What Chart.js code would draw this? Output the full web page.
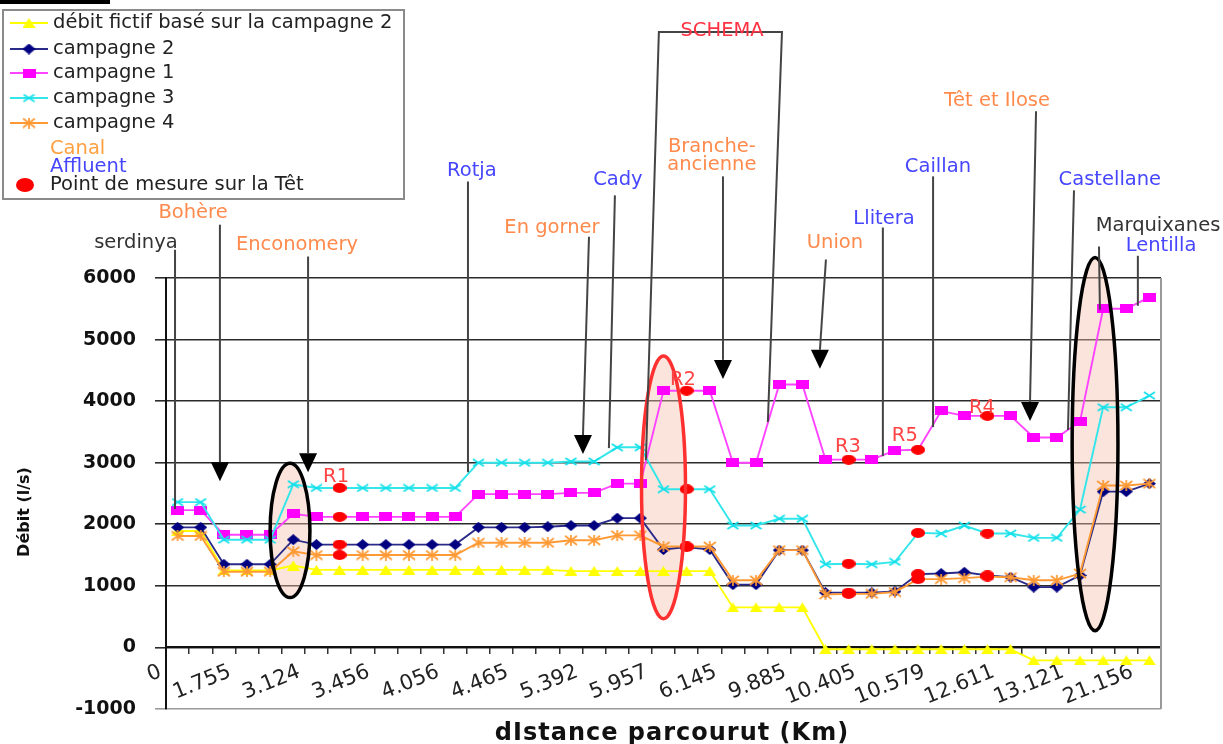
<!DOCTYPE html>
<html lang="fr">
<head>
<meta charset="utf-8">
<title>Débit en fonction de la distance parcourue</title>
<script src="https://cdn.jsdelivr.net/npm/chart.js@4.4.1/dist/chart.umd.min.js"></script>
<style>
  html, body { margin: 0; padding: 0; background: #fff; }
</style>
</head>
<body>
<canvas id="debitChart" width="1223" height="744"></canvas>
<script>
// distances (km) written under the axis, one every third station
const kmTicks = ['0', '1.755', '3.124', '3.456', '4.056', '4.465', '5.392', '5.957',
  '6.145', '9.885', '10.405', '10.579', '12.611', '13.121', '21.156'];
const categories = [];
for (let i = 0; i < 43; i++) categories.push(i % 3 === 0 ? kmTicks[i / 3] : '');

// débits (l/s)
const fictif = [1890, 1890, 1250, 1250, 1250, 1330,
  1260, 1260, 1260, 1260, 1260, 1260, 1260, 1260, 1260, 1260, 1260,
  1240, 1240, 1240, 1240, 1240, 1240, 1240,
  650, 650, 650, 650,
  -30, -30, -30, -30, -30, -30, -30, -30, -30,
  -210, -210, -210, -210, -210, -210];
const campagne2 = [1950, 1950, 1350, 1350, 1350, 1750,
  1670, 1670, 1670, 1670, 1670, 1670, 1670,
  1950, 1950, 1950, 1960, 1980, 1980, 2100, 2100,
  1590, 1630, 1590, 1020, 1020, 1580, 1580,
  890, 890, 890, 910, 1190,
  1200, 1220, 1170, 1140, 980, 980, 1170,
  2530, 2530, 2660];
const campagne1 = [2230, 2230, 1830, 1830, 1830, 2170,
  2120, 2120, 2120, 2120, 2120, 2120, 2120,
  2490, 2490, 2490, 2490, 2510, 2510, 2660, 2660,
  4170, 4170, 4170, 3000, 3000, 4270, 4270,
  3050, 3050, 3050, 3200, 3210,
  3840, 3760, 3760, 3760, 3410, 3410, 3670,
  5500, 5500, 5690];
const campagne3 = [2360, 2360, 1750, 1750, 1750, 2650,
  2590, 2590, 2590, 2590, 2590, 2590, 2590,
  3000, 3000, 3000, 3000, 3020, 3020, 3250, 3250,
  2570, 2570, 2570, 1980, 1980, 2090, 2090,
  1350, 1360, 1350, 1390, 1860,
  1850, 1980, 1850, 1850, 1780, 1780, 2240,
  3900, 3900, 4090];
const campagne4 = [1810, 1810, 1230, 1230, 1230, 1560,
  1500, 1500, 1500, 1500, 1500, 1500, 1500,
  1700, 1700, 1700, 1700, 1740, 1740, 1820, 1820,
  1640, 1640, 1640, 1090, 1090, 1580, 1580,
  860, 870, 870, 900, 1110,
  1110, 1125, 1150, 1140, 1090, 1090, 1200,
  2630, 2630, 2660];

// stations where the Têt was measured (R1, R2, R3, R5, R4)
const mesure = [7, 22, 29, 32, 35];
const mesureNames = ['R1', 'R2', 'R3', 'R5', 'R4'];

const ORANGE = '#ff8a4c';
const BLUE = '#4646ff';

// small canvas markers, closer to the old spreadsheet look than the built-in ones
function marker(kind, color, w, h) {
  const c = document.createElement('canvas');
  c.width = w; c.height = h;
  const g = c.getContext('2d');
  g.fillStyle = color;
  g.strokeStyle = color;
  g.lineWidth = 1.7;
  g.beginPath();
  if (kind === 'tri') {
    g.moveTo(w / 2, 0); g.lineTo(w, h); g.lineTo(0, h); g.closePath(); g.fill();
  } else if (kind === 'diamond') {
    g.moveTo(w / 2, 0); g.lineTo(w, h / 2); g.lineTo(w / 2, h); g.lineTo(0, h / 2); g.closePath(); g.fill();
  } else if (kind === 'rect') {
    g.fillRect(0, 0, w, h);
  } else if (kind === 'cross' || kind === 'star') {
    g.moveTo(1, 1); g.lineTo(w - 1, h - 1);
    g.moveTo(w - 1, 1); g.lineTo(1, h - 1);
    if (kind === 'star') { g.moveTo(w / 2, 0); g.lineTo(w / 2, h); }
    g.stroke();
  } else if (kind === 'dot') {
    g.ellipse(w / 2, h / 2, w / 2, h / 2, 0, 0, Math.PI * 2); g.fill();
  }
  return c;
}

const redDot = marker('dot', '#ff0000', 14, 10);
const markers = [
  marker('tri', '#ffff00', 13, 10),
  marker('diamond', '#000080', 13, 11),
  marker('rect', '#ff00ff', 13, 9),
  marker('cross', '#11e0ea', 13, 9),
  marker('star', '#ff9933', 14, 11)
];

function serie(label, data, lineColor, img, order, measured) {
  return {
    label: label,
    data: data,
    order: order,
    borderColor: lineColor,
    backgroundColor: lineColor,
    borderWidth: 1.9,
    tension: 0,
    pointRadius: 5,
    pointStyle: ctx => (measured && mesure.includes(ctx.dataIndex)) ? redDot : img
  };
}

// place names and their leader lines, in (station index, débit) units
const sites = [
  { text: 'serdinya', color: '#333', at: [-1.8, 6573], path: [[-0.11, 6459], [-0.11, 2250]] },
  { text: 'Bohère', color: ORANGE, at: [0.67, 7064], path: [[1.83, 6866], [1.83, 3009]], arrow: true },
  { text: 'Enconomery', color: ORANGE, at: [5.16, 6540], path: [[5.64, 6349], [5.64, 3155]], arrow: true },
  { text: 'Rotja', color: BLUE, at: [12.72, 7732], path: [[12.55, 7569], [12.55, 2846]] },
  { text: 'En gorner', color: ORANGE, at: [16.18, 6817], path: [[17.78, 6671], [17.52, 3449]], arrow: true },
  { text: 'Cady', color: BLUE, at: [19.03, 7586], path: [[18.9, 7342], [18.64, 3237]] },
  { text: 'Branche-\nancienne', color: ORANGE, at: [23.09, 8124], path: [[23.57, 7651], [23.57, 4670]], arrow: true },
  { text: 'Union', color: ORANGE, at: [28.41, 6573], path: [[28.02, 6300], [27.76, 4834]], arrow: true },
  { text: 'Llitera', color: BLUE, at: [30.53, 6964], path: [[30.48, 6820], [30.48, 3106]] },
  { text: 'Caillan', color: BLUE, at: [32.86, 7811], path: [[32.65, 7651], [32.65, 3579]] },
  { text: 'Têt et Ilose', color: ORANGE, at: [35.41, 8870], path: [[37.1, 8707], [36.84, 3986]], arrow: true },
  { text: 'Castellane', color: BLUE, at: [40.29, 7586], path: [[38.74, 7423], [38.48, 3530]] },
  { text: 'Marquixanes', color: '#333', at: [42.37, 6850], path: [[39.82, 6511], [39.86, 5485]] },
  { text: 'Lentilla', color: BLUE, at: [42.5, 6524], path: [[41.5, 6361], [41.5, 5549]] },
  { text: 'SCHEMA', color: '#ff3344', at: [23.53, 10012], path: [[20.24, 3041], [20.8, 9995], [26.12, 9995], [25.51, 3661]] }
];
const mesureLabelAt = [[6.85, 2764], [21.84, 4344], [28.97, 3253], [31.43, 3432], [34.76, 3889]];
const ellipses = [
  { cx: 4.86, cy: 1901, rx: 0.86, ry: 1091, stroke: '#000' },
  { cx: 21.0, cy: 2601, rx: 0.95, ry: 2134, stroke: '#ff3030' },
  { cx: 39.65, cy: 3302, rx: 0.99, ry: 3030, stroke: '#000' }
];

function ellipsePath(chart, e) {
  const xs = chart.scales.x, ys = chart.scales.y;
  const cx = xs.getPixelForValue(e.cx), cy = ys.getPixelForValue(e.cy);
  const rx = Math.abs(xs.getPixelForValue(e.cx + e.rx) - cx);
  const ry = Math.abs(ys.getPixelForValue(e.cy + e.ry) - cy);
  chart.ctx.beginPath();
  chart.ctx.ellipse(cx, cy, rx, ry, 0, 0, Math.PI * 2);
}

const decor = {
  id: 'decor',
  beforeDatasetsDraw(chart) {
    const ctx = chart.ctx;
    ctx.save();
    ctx.fillStyle = 'rgba(244, 190, 172, 0.42)';
    ellipses.forEach(e => { ellipsePath(chart, e); ctx.fill(); });
    ctx.restore();
  },
  afterDatasetsDraw(chart) {
    const ctx = chart.ctx;
    const xs = chart.scales.x, ys = chart.scales.y;
    const area = chart.chartArea;
    ctx.save();

    // right frame of the plot
    ctx.strokeStyle = '#9a9a9a';
    ctx.lineWidth = 2;
    ctx.beginPath();
    ctx.moveTo(area.right, area.top);
    ctx.lineTo(area.right, area.bottom);
    ctx.stroke();

    ctx.lineWidth = 3.5;
    ellipses.forEach(e => { ellipsePath(chart, e); ctx.strokeStyle = e.stroke; ctx.stroke(); });

    ctx.font = '19.5px "DejaVu Sans"';
    ctx.textAlign = 'center';
    ctx.textBaseline = 'middle';
    sites.forEach(s => {
      ctx.strokeStyle = '#444';
      ctx.lineWidth = 2;
      ctx.beginPath();
      let last;
      s.path.forEach((p, k) => {
        const x = xs.getPixelForValue(p[0]), y = ys.getPixelForValue(p[1]);
        if (k) ctx.lineTo(x, y); else ctx.moveTo(x, y);
        last = [x, y];
      });
      ctx.stroke();
      if (s.arrow) {
        ctx.fillStyle = '#000';
        ctx.beginPath();
        ctx.moveTo(last[0] - 9, last[1]);
        ctx.lineTo(last[0] + 9, last[1]);
        ctx.lineTo(last[0], last[1] + 19);
        ctx.closePath();
        ctx.fill();
      }
      ctx.fillStyle = s.color;
      const tx = xs.getPixelForValue(s.at[0]), ty = ys.getPixelForValue(s.at[1]);
      s.text.split('\n').forEach((line, k) => ctx.fillText(line, tx, ty + k * 18));
    });

    ctx.fillStyle = '#ff4444';
    mesureLabelAt.forEach((p, k) => {
      ctx.fillText(mesureNames[k], xs.getPixelForValue(p[0]), ys.getPixelForValue(p[1]));
    });
    ctx.restore();
  },
  afterDraw(chart) {
    const ctx = chart.ctx;
    ctx.save();

    // cut caption underline at the very top
    ctx.fillStyle = '#000';
    ctx.fillRect(0, 0, 110, 4);

    // legend box
    ctx.fillStyle = '#fff';
    ctx.fillRect(3, 10, 401, 189);
    ctx.strokeStyle = '#8a8a8a';
    ctx.lineWidth = 2;
    ctx.strokeRect(3, 10, 401, 189);

    const rowsY = [23, 49, 73, 98, 123];
    ctx.font = '19.5px "DejaVu Sans"';
    ctx.textAlign = 'left';
    ctx.textBaseline = 'middle';
    chart.data.datasets.forEach((ds, k) => {
      const y = rowsY[k];
      ctx.strokeStyle = ds.borderColor;
      ctx.lineWidth = 1.8;
      ctx.beginPath();
      ctx.moveTo(10, y);
      ctx.lineTo(48, y);
      ctx.stroke();
      const img = markers[k];
      ctx.drawImage(img, 29 - img.width / 2, y - img.height / 2);
      ctx.fillStyle = '#222';
      ctx.fillText(ds.label, 53, y);
    });
    ctx.fillStyle = '#ffa040';
    ctx.fillText('Canal', 50, 149);
    ctx.fillStyle = BLUE;
    ctx.fillText('Affluent', 50, 167);
    ctx.fillStyle = '#ff0000';
    ctx.beginPath();
    ctx.ellipse(25, 185, 9, 7, 0, 0, Math.PI * 2);
    ctx.fill();
    ctx.fillStyle = '#222';
    ctx.fillText('Point de mesure sur la Têt', 50, 185);

    // axis titles
    ctx.fillStyle = '#111';
    ctx.font = 'bold 16px "DejaVu Sans"';
    ctx.textAlign = 'center';
    ctx.translate(25, 512);
    ctx.rotate(-Math.PI / 2);
    ctx.fillText('Débit (l/s)', 0, 0);
    ctx.setTransform(1, 0, 0, 1, 0, 0);
    ctx.font = 'bold 24px "DejaVu Sans"';
    ctx.letterSpacing = '1px';
    ctx.fillText('dIstance parcourut (Km)', 672, 734);
    ctx.restore();
  }
};

new Chart(document.getElementById('debitChart'), {
  type: 'line',
  data: {
    labels: categories,
    datasets: [
      serie('débit fictif basé sur la campagne 2', fictif, '#ffff00', markers[0], 4, false),
      serie('campagne 2', campagne2, '#2a2a88', markers[1], 3, true),
      serie('campagne 1', campagne1, '#ff44ff', markers[2], 2, true),
      serie('campagne 3', campagne3, '#33e6ea', markers[3], 1, true),
      serie('campagne 4', campagne4, '#ff9933', markers[4], 0, true)
    ]
  },
  options: {
    responsive: false,
    animation: false,
    events: [],
    layout: { padding: { top: 278, right: 62, bottom: 35, left: 0 } },
    plugins: {
      legend: { display: false },
      tooltip: { enabled: false }
    },
    scales: {
      x: {
        type: 'category',
        position: { y: 0 },
        offset: true,
        grid: { drawOnChartArea: false, drawTicks: true, tickLength: 6, offset: true, color: '#333', lineWidth: 1.5 },
        border: { color: '#111', width: 2 },
        ticks: {
          autoSkip: false,
          minRotation: 22,
          maxRotation: 22,
          labelOffset: -17,
          padding: 6,
          color: '#222',
          font: { family: 'DejaVu Sans', size: 21 }
        },
        afterFit: s => { s.paddingLeft = 0; s.paddingRight = 0; }
      },
      y: {
        min: -1000,
        max: 6000,
        ticks: {
          stepSize: 1000,
          padding: 19,
          color: '#111',
          font: { family: 'DejaVu Sans', size: 19, weight: 'bold' },
          callback: v => String(v)
        },
        grid: {
          color: c => (c.tick && c.tick.value === -1000) ? '#9a9a9a' : '#2b2b2b',
          lineWidth: 1.6,
          tickLength: 11
        },
        border: { color: '#111', width: 2 },
        afterFit: s => { s.width = 166; s.paddingTop = 0; s.paddingBottom = 0; }
      }
    }
  },
  plugins: [decor]
});
</script>
</body>
</html>
